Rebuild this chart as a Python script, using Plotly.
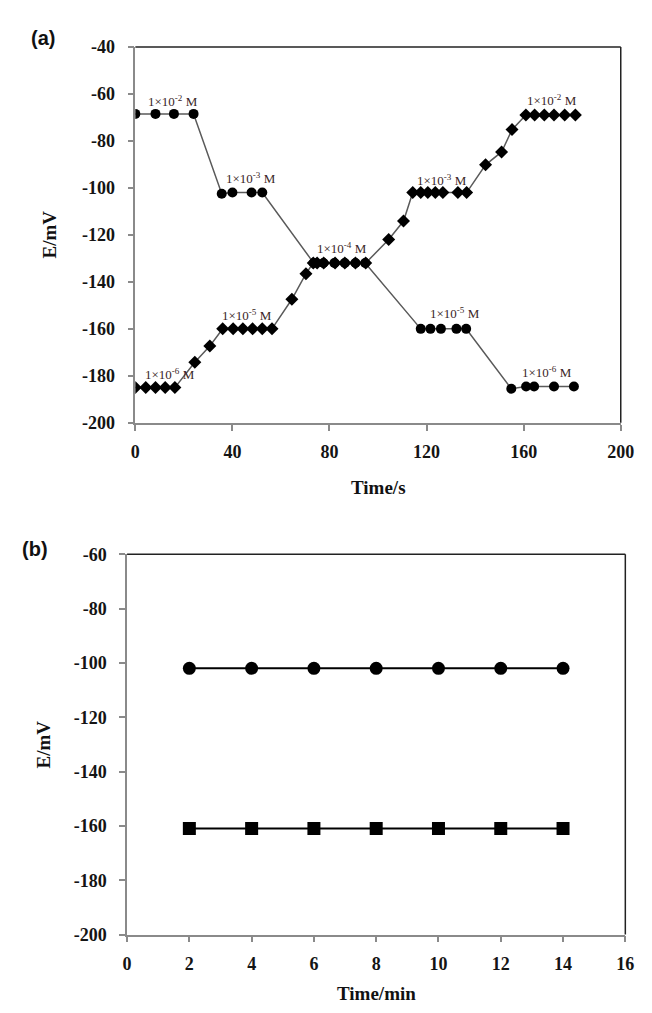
import plotly.graph_objects as go

# ---------------- Panel (a) data ----------------
t_dec = [0, 8.3, 15.9, 24, 35.6, 40, 47.9, 52.3, 73.5, 77.5, 82, 86.3, 90.7, 94.7,
         117.6, 121.6, 125.9, 132.3, 136.3, 154.9, 161, 164.3, 172.5, 180.7]
e_dec = [-68.5, -68.5, -68.5, -68.5, -102.5, -102, -102, -102,
         -132, -132, -132, -132, -132, -132,
         -160, -160, -160, -160, -160,
         -185.5, -184.5, -184.5, -184.5, -184.5]

t_inc = [0, 4.3, 8.3, 12.3, 16.3, 24.5, 30.7, 36, 40.3, 44.3, 48.3, 52.3, 56.3,
         64.5, 70.3, 73.3, 74.9, 77.6, 82.3, 86.3, 90.7, 94.9, 104.4, 110.5,
         114.3, 117.6, 120.5, 123.6, 126.7, 132.9, 136.5, 144.3, 150.9, 155.2,
         160.9, 164.5, 168.5, 172.5, 176.9, 181.3]
e_inc = [-185, -185, -185, -185, -185, -174.2, -167.3,
         -160, -160, -160, -160, -160, -160,
         -147.4, -136.5, -132, -132, -132, -132, -132, -132, -132,
         -122, -114.1,
         -102, -102, -102, -102, -102, -102, -102,
         -90.2, -84.7, -75.2,
         -69, -69, -69, -69, -69, -69]

lab_text = ["1×10<sup>-2</sup> M", "1×10<sup>-3</sup> M", "1×10<sup>-4</sup> M",
            "1×10<sup>-5</sup> M", "1×10<sup>-6</sup> M",
            "1×10<sup>-6</sup> M", "1×10<sup>-5</sup> M", "1×10<sup>-3</sup> M",
            "1×10<sup>-2</sup> M"]
lab_x = [15.6, 47.6, 85.2, 131.6, 169.6, 14.3, 46, 126.3, 171.6]
lab_y = [-63.1, -95.6, -125.6, -153.4, -178.4, -179.1, -154.1, -96.5, -62.4]

a_xticks = [0, 40, 80, 120, 160, 200]
a_yticks = [-40, -60, -80, -100, -120, -140, -160, -180, -200]

# ---------------- Panel (b) data ----------------
t_min = [2, 4, 6, 8, 10, 12, 14]
e_circ = [-102, -102, -102, -102, -102, -102, -102]
e_sq = [-161, -161, -161, -161, -161, -161, -161]
b_xticks = [0, 2, 4, 6, 8, 10, 12, 14, 16]
b_yticks = [-60, -80, -100, -120, -140, -160, -180, -200]

W, H = 652, 1013
SERIF = "Liberation Serif, Times New Roman, serif"
TICKF = dict(family=SERIF, size=18, color="#141414")
TITLEF = dict(family=SERIF, size=19, color="#111")
AX = "#8a8a8a"

fig = go.Figure()

fig.add_trace(go.Scatter(x=t_dec, y=e_dec, mode="lines+markers",
                         line=dict(color="#5a5a5a", width=1.5),
                         marker=dict(symbol="circle", size=10, color="black"),
                         xaxis="x", yaxis="y", showlegend=False))
fig.add_trace(go.Scatter(x=t_inc, y=e_inc, mode="lines+markers",
                         line=dict(color="#5a5a5a", width=1.5),
                         marker=dict(symbol="diamond", size=10, color="black"),
                         xaxis="x", yaxis="y", showlegend=False))

fig.add_trace(go.Scatter(x=t_min, y=e_circ, mode="lines+markers",
                         line=dict(color="black", width=2),
                         marker=dict(symbol="circle", size=13, color="black"),
                         xaxis="x2", yaxis="y2", showlegend=False))
fig.add_trace(go.Scatter(x=t_min, y=e_sq, mode="lines+markers",
                         line=dict(color="black", width=2),
                         marker=dict(symbol="square", size=13, color="black"),
                         xaxis="x2", yaxis="y2", showlegend=False))

def px_x(v):
    return v / W

def px_y(v):
    return 1 - v / H

common_axis = dict(showline=True, linecolor=AX, linewidth=1.5, ticks="outside",
                   tickcolor=AX, ticklen=6, tickwidth=1.5, showgrid=False,
                   zeroline=False, tickfont=TICKF)

fig.update_layout(
    width=W, height=H, margin=dict(l=0, r=0, t=0, b=0),
    paper_bgcolor="white", plot_bgcolor="white",
    xaxis=dict(domain=[px_x(126), px_x(626)], range=[0, 200], tickvals=a_xticks,
               ticktext=[f"<b>{v}</b>" for v in a_xticks], anchor="y",
               ticklabelstandoff=6, **common_axis),
    yaxis=dict(domain=[px_y(413), px_y(29.5)], range=[-200, -40], tickvals=a_yticks,
               ticktext=[f"<b>{v}</b>" for v in a_yticks], anchor="x",
               ticklabelstandoff=9, **common_axis),
    xaxis2=dict(domain=[px_x(117.5), px_x(630.7)], range=[0, 16], tickvals=b_xticks,
                ticktext=[f"<b>{v}</b>" for v in b_xticks], anchor="y2",
                ticklabelstandoff=6, **common_axis),
    yaxis2=dict(domain=[px_y(935), px_y(547)], range=[-200, -60], tickvals=b_yticks,
                ticktext=[f"<b>{v}</b>" for v in b_yticks], anchor="x2",
                ticklabelstandoff=9, **common_axis),
)

# top and right frame lines (black)
for xr, yr in (("x", "y"), ("x2", "y2")):
    fig.add_shape(type="line", xref=f"{xr} domain", yref=f"{yr} domain",
                  x0=0, x1=1, y0=1, y1=1, line=dict(color="#222", width=1.5))
    fig.add_shape(type="line", xref=f"{xr} domain", yref=f"{yr} domain",
                  x0=1, x1=1, y0=0, y1=1, line=dict(color="#222", width=1.5))

for txt, x, y in zip(lab_text, lab_x, lab_y):
    fig.add_annotation(x=x, y=y, xref="x", yref="y", text=txt, showarrow=False,
                       font=dict(family=SERIF, size=13, color="#3a2626"),
                       xanchor="center", yanchor="middle")

# axis titles
def title_ann(text, x, y, angle=0):
    fig.add_annotation(x=px_x(x), y=px_y(y), xref="paper", yref="paper", text=text,
                       showarrow=False, textangle=angle, font=TITLEF,
                       xanchor="center", yanchor="middle")

title_ann("<b>Time/s</b>", 376, 479)
title_ann("<b>E/mV</b>", 38, 221, -90)
title_ann("<b>Time/min</b>", 374, 995)
title_ann("<b>E/mV</b>", 31, 741, -90)

PANELF = dict(family="Liberation Sans, Arial, sans-serif", size=20, color="#111")
fig.add_annotation(x=px_x(16), y=px_y(20), xref="paper", yref="paper",
                   text="<b>(a)</b>", showarrow=False, xanchor="left", yanchor="middle",
                   font=PANELF)
fig.add_annotation(x=px_x(7), y=px_y(542), xref="paper", yref="paper",
                   text="<b>(b)</b>", showarrow=False, xanchor="left", yanchor="middle",
                   font=PANELF)

fig.write_html("out.html")
